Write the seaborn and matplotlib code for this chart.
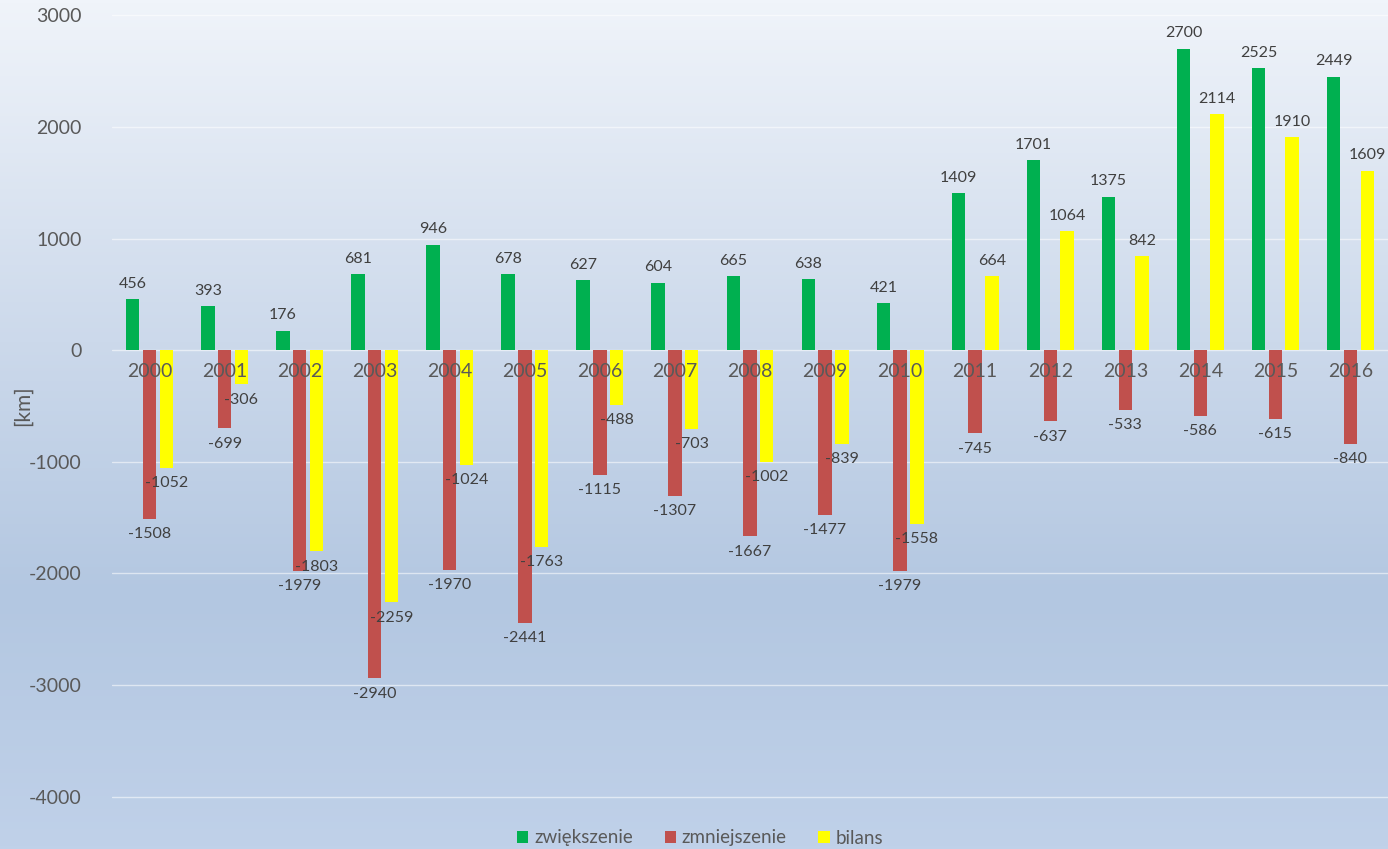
import numpy as np
import pandas as pd
import matplotlib
matplotlib.use("Agg")
import matplotlib.pyplot as plt
from matplotlib.colors import LinearSegmentedColormap
import seaborn as sns

years = [str(y) for y in range(2000, 2017)]
zwiekszenie = [456, 393, 176, 681, 946, 678, 627, 604, 665, 638, 421, 1409, 1701, 1375, 2700, 2525, 2449]
zmniejszenie = [-1508, -699, -1979, -2940, -1970, -2441, -1115, -1307, -1667, -1477, -1979, -745, -637, -533, -586, -615, -840]
bilans = [-1052, -306, -1803, -2259, -1024, -1763, -488, -703, -1002, -839, -1558, 664, 1064, 842, 2114, 1910, 1609]
series_names = ["zwiększenie", "zmniejszenie", "bilans"]
colors = ["#00B050", "#C0504D", "#FFFF00"]
y_ticks = [-4000, -3000, -2000, -1000, 0, 1000, 2000, 3000]

df = pd.DataFrame({
    "rok": years * 3,
    "wartosc": zwiekszenie + zmniejszenie + bilans,
    "seria": [series_names[0]] * len(years) + [series_names[1]] * len(years) + [series_names[2]] * len(years),
})

sns.set_theme(style="white")
plt.rcParams["font.family"] = ["Lato", "DejaVu Sans"]
text_color = "#595959"

fig = plt.figure(figsize=(13.88, 8.49), dpi=100)

# gradient background
bg = fig.add_axes([0, 0, 1, 1], zorder=-10)
cmap = LinearSegmentedColormap.from_list(
    "bg", [(0.0, "#C0D1E9"), (0.3, "#B3C7E1"), (0.6, "#CCD9EB"), (1.0, "#F0F4FA")])
grad = np.linspace(0, 1, 256).reshape(-1, 1)
bg.imshow(grad, aspect="auto", cmap=cmap, origin="lower", extent=[0, 1, 0, 1])
bg.set_axis_off()

ax = fig.add_axes([112 / 1388, 1 - 799 / 849, 1 - 112 / 1388, (799 - 13) / 849])
ax.set_facecolor("none")

sns.barplot(data=df, x="rok", y="wartosc", hue="seria", palette=colors,
            width=0.67, gap=0.2, ax=ax, legend=True, saturation=1,
            linewidth=0, edgecolor="none")

for cont in ax.containers:
    ax.bar_label(cont, fmt="%d", padding=6, fontsize=11.5, color="#404040")

ax.set_ylim(-4020, 3020)
ax.set_yticks(y_ticks)
ax.set_yticklabels([str(t) for t in y_ticks], fontsize=14, color=text_color)
ax.tick_params(axis="y", length=0, pad=22)
ax.set_axisbelow(True)
ax.yaxis.grid(True, color="white", alpha=0.55, linewidth=1.0)
ax.xaxis.grid(False)

# x axis at zero
ax.spines["bottom"].set_position(("data", 0))
for s in ["top", "right", "left", "bottom"]:
    ax.spines[s].set_visible(False)
ax.tick_params(axis="x", length=0, pad=9, labelsize=14, labelcolor=text_color)
ax.xaxis.set_zorder(3)
ax.set_xlabel("")
ax.set_ylabel("[km]", fontsize=15, color=text_color)
ax.yaxis.set_label_coords(-0.062, 0.5)

handles, labels = ax.get_legend_handles_labels()
ax.get_legend().remove()
fig.legend(handles, labels, loc="center", bbox_to_anchor=(700 / 1388, 1 - 838 / 849),
           ncol=3, frameon=False, fontsize=13.5, labelcolor=text_color,
           handlelength=0.6, handleheight=0.6, handletextpad=0.3, columnspacing=1.7)

fig.savefig("out.png", dpi=100)
